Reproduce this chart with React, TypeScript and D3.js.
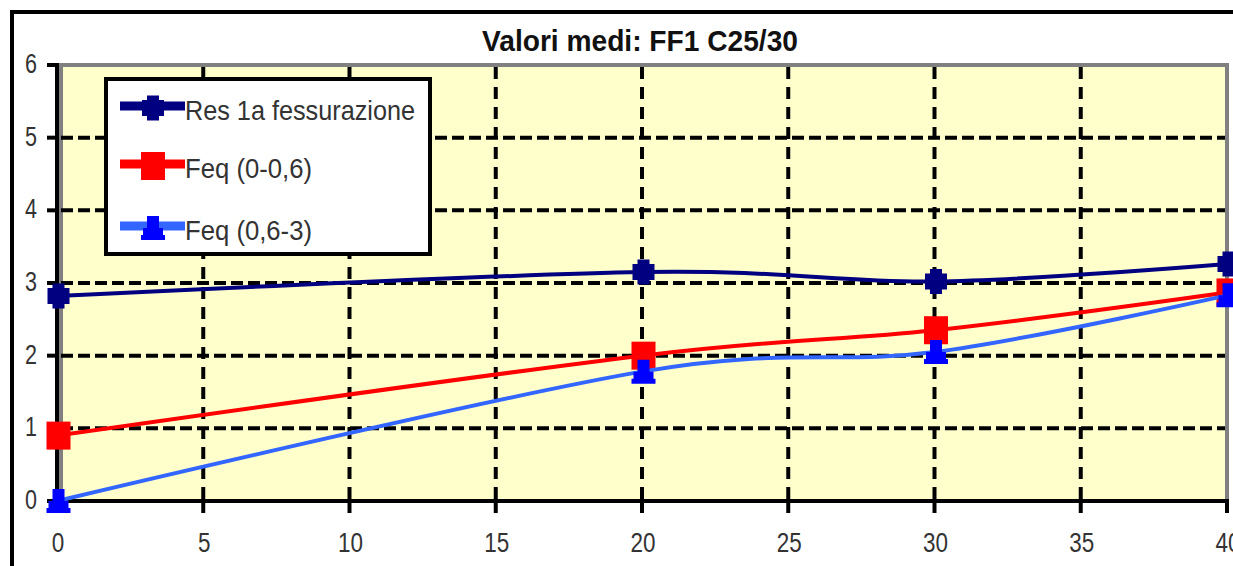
import React from "react";
import * as d3 from "d3";

// Test distances (x) and mean values of the three series
const distances = [0, 20, 30, 40];
const resFessurazione = [2.82, 3.15, 3.02, 3.26];
const feq0_06 = [0.9, 2.0, 2.35, 2.87];
const feq06_3 = [0, 1.78, 2.05, 2.83];

const xTicks = [0, 5, 10, 15, 20, 25, 30, 35, 40];
const yTicks = [0, 1, 2, 3, 4, 5, 6];

const seriesNames = ["Res 1a fessurazione", "Feq (0-0,6)", "Feq (0,6-3)"];
const legendTextWidths = [230, 127, 127];

const W = 1233;
const H = 566;
const FONT = "'Liberation Sans', Arial, Helvetica, sans-serif";
const TEXT = "#333";

const x = d3.scaleLinear().domain([0, 40]).range([57, 1227]);
const y = d3.scaleLinear().domain([0, 6]).range([501, 65]);

const smooth = d3
  .line<[number, number]>()
  .x((d) => x(d[0]))
  .y((d) => y(d[1]))
  .curve(d3.curveCardinal.tension(0));

type MarkerKind = "octagon" | "square" | "triangle";

function Marker({ kind, cx, cy, fill }: { kind: MarkerKind; cx: number; cy: number; fill: string }) {
  if (kind === "square") {
    return <rect x={cx - 12} y={cy - 14} width={24} height={28} fill={fill} />;
  }
  if (kind === "triangle") {
    // stepped triangle
    const pts = [
      [-6, -12], [6, -12], [6, -0], [10, 0], [10, 7], [12, 7], [12, 12],
      [-12, 12], [-12, 7], [-10, 7], [-10, 0], [-6, 0],
    ];
    return <polygon points={pts.map((p) => `${cx + p[0]},${cy + p[1]}`).join(" ")} fill={fill} />;
  }
  const pts = [
    [-6, -12.5], [6, -12.5], [6, -8], [11, -8], [11, 8], [6, 8], [6, 12.5],
    [-6, 12.5], [-6, 8], [-11, 8], [-11, -8], [-6, -8],
  ];
  return <polygon points={pts.map((p) => `${cx + p[0]},${cy + p[1]}`).join(" ")} fill={fill} />;
}

const series = [
  { name: seriesNames[0], values: resFessurazione, line: "#000080", marker: "#000080", kind: "octagon" as MarkerKind },
  { name: seriesNames[1], values: feq0_06, line: "#FF0000", marker: "#FF0000", kind: "square" as MarkerKind },
  { name: seriesNames[2], values: feq06_3, line: "#3366FF", marker: "#0000FF", kind: "triangle" as MarkerKind },
];

export default function App() {
  const legendRows = [106, 164, 226];
  return (
    <svg
      width={W}
      height={H}
      style={{ position: "absolute", left: 0, top: 0, background: "#fff" }}
      fontFamily={FONT}
    >
      {/* chart frame */}
      <line x1={10} y1={12} x2={W} y2={12} stroke="#000" strokeWidth={4} />
      <line x1={12} y1={10} x2={12} y2={H} stroke="#000" strokeWidth={4} />

      {/* title */}
      <text
        x={640}
        y={51}
        textAnchor="middle"
        fontSize={30}
        fontWeight="bold"
        fill="#111"
        textLength={316}
        lengthAdjust="spacingAndGlyphs"
      >
        Valori medi: FF1 C25/30
      </text>

      {/* plot area */}
      <rect x={61} y={65} width={1227 - 61} height={501 - 65} fill="#FFFFCC" stroke="#808080" strokeWidth={4} />

      {/* grid */}
      {yTicks.filter((t) => t > 0 && t < 6).map((t) => (
        <line key={"gy" + t} x1={61} x2={1225} y1={y(t)} y2={y(t)} stroke="#000" strokeWidth={4} strokeDasharray="12 5" />
      ))}
      {xTicks.filter((t) => t > 0 && t < 40).map((t) => (
        <line key={"gx" + t} x1={x(t)} x2={x(t)} y1={67} y2={501} stroke="#000" strokeWidth={4} strokeDasharray="12 8" />
      ))}

      {/* axes */}
      <line x1={x(0)} x2={x(0)} y1={63} y2={513} stroke="#000" strokeWidth={4} />
      <line x1={47} x2={1229} y1={y(0)} y2={y(0)} stroke="#000" strokeWidth={4} />
      {yTicks.map((t) => (
        <line key={"ty" + t} x1={47} x2={x(0)} y1={y(t)} y2={y(t)} stroke="#000" strokeWidth={4} />
      ))}
      {xTicks.map((t) => (
        <line key={"tx" + t} x1={x(t)} x2={x(t)} y1={y(0)} y2={513} stroke="#000" strokeWidth={4} />
      ))}

      {/* tick labels */}
      {yTicks.map((t) => (
        <text key={"ly" + t} x={31} y={y(t) + 8} textAnchor="middle" fontSize={27} fill={TEXT}
          textLength={12} lengthAdjust="spacingAndGlyphs">
          {t}
        </text>
      ))}
      {xTicks.map((t) => (
        <text key={"lx" + t} x={x(t) + 1} y={552} textAnchor="middle" fontSize={27} fill={TEXT}
          textLength={String(t).length * 12.5} lengthAdjust="spacingAndGlyphs">
          {t}
        </text>
      ))}

      {/* series */}
      {series.map((s) => {
        const pts = distances.map((d, i) => [d, s.values[i]] as [number, number]);
        return (
          <g key={s.name}>
            <path d={smooth(pts) || ""} fill="none" stroke={s.line} strokeWidth={4} />
            {pts.map((p, i) => (
              <Marker key={i} kind={s.kind} cx={x(p[0]) + 1.5} cy={y(p[1])} fill={s.marker} />
            ))}
          </g>
        );
      })}

      {/* legend */}
      <rect x={106} y={79} width={324} height={175} fill="#fff" stroke="#000" strokeWidth={4} />
      {series.map((s, i) => (
        <g key={"lg" + i}>
          <line x1={120} x2={185} y1={legendRows[i]} y2={legendRows[i]} stroke={s.line} strokeWidth={9} />
          <Marker kind={s.kind} cx={153} cy={legendRows[i] + 2} fill={s.marker} />
          <text x={185} y={legendRows[i] + 14} fontSize={28} fill={TEXT}
            textLength={legendTextWidths[i]} lengthAdjust="spacingAndGlyphs">
            {s.name}
          </text>
        </g>
      ))}
    </svg>
  );
}
